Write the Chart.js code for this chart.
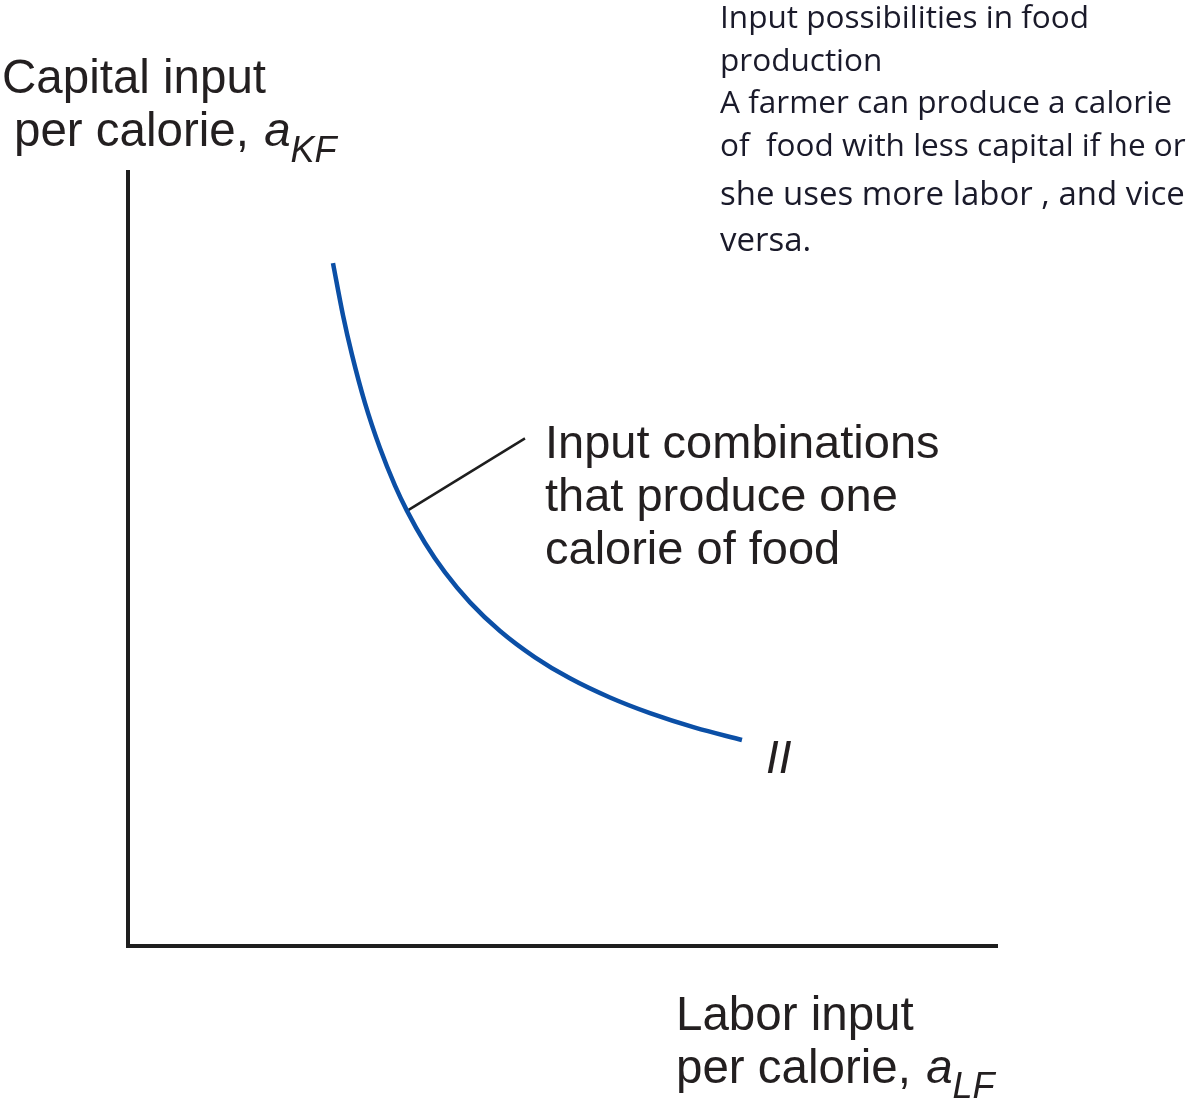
<!DOCTYPE html>
<html>
<head>
<meta charset="utf-8">
<script src="https://cdn.jsdelivr.net/npm/chart.js@4.4.1/dist/chart.umd.min.js"></script>
<style>
  html, body { margin: 0; padding: 0; background: #ffffff; }
  #wrap { width: 1191px; height: 1102px; }
</style>
</head>
<body>
<div id="wrap"><canvas id="c" width="1191" height="1102"></canvas></div>
<script>
// ---- Data ----
// Isoquant II: labor input per calorie (x) vs capital input per calorie (y), axis units 0..10
const laborInput   = [2.356, 2.471, 2.575, 2.724, 2.897, 3.069, 3.207, 3.414, 3.644, 3.931, 4.276, 4.678, 5.080, 5.540, 6.000, 6.517, 7.057];
const capitalInput = [8.823, 8.150, 7.637, 7.014, 6.430, 5.948, 5.622, 5.207, 4.827, 4.440, 4.070, 3.730, 3.458, 3.210, 3.008, 2.821, 2.662];
// Leader line from curve to label
const leaderX = [3.207, 4.563];
const leaderY = [5.622, 6.559];
// Axis range
const axisMin = 0, axisMax = 10;
// Texts
const yAxisLabel = ["Capital input", "per calorie, "];
const yAxisSym = ["a", "KF"];
const xAxisLabel = ["Labor input", "per calorie, "];
const xAxisSym = ["a", "LF"];
const curveLabel = ["Input combinations", "that produce one", "calorie of food"];
const curveName = "II";
const noteLines = [
  "Input possibilities in food",
  "production",
  "A farmer can produce a calorie",
  "of  food with less capital if he or",
  "she uses more labor , and vice",
  "versa."
];

const toPts = (xs, ys) => xs.map((x, i) => ({ x: x, y: ys[i] }));

const annotate = {
  id: 'annotate',
  beforeDatasetsDraw(chart) {
    const ctx = chart.ctx;
    const xs = chart.scales.x, ys = chart.scales.y;
    const x0 = xs.getPixelForValue(axisMin);
    const y0 = ys.getPixelForValue(axisMin);
    const xEnd = xs.getPixelForValue(axisMax);
    const yTop = ys.getPixelForValue(axisMax);
    ctx.save();
    ctx.strokeStyle = '#1e1e1e';
    ctx.lineWidth = 4;
    ctx.lineJoin = 'miter';
    ctx.lineCap = 'butt';
    ctx.beginPath();
    ctx.moveTo(x0, yTop - 2);
    ctx.lineTo(x0, y0);
    ctx.lineTo(xEnd, y0);
    ctx.stroke();
    ctx.restore();
  },
  afterDraw(chart) {
    const ctx = chart.ctx;
    ctx.save();
    ctx.fillStyle = '#231f20';
    ctx.textBaseline = 'alphabetic';
    ctx.textAlign = 'left';
    const sans = '"Liberation Sans", Arial, sans-serif';
    const big = '47.5px ' + sans;
    const bigIt = 'italic 47.5px ' + sans;
    const sub = 'italic 36px ' + sans;

    // Y axis label
    ctx.font = big;
    ctx.fillText(yAxisLabel[0], 2, 93);
    ctx.fillText(yAxisLabel[1], 14, 146);
    let w = ctx.measureText(yAxisLabel[1]).width;
    ctx.font = bigIt;
    ctx.fillText(yAxisSym[0], 14 + w + 2, 146);
    let wa = ctx.measureText(yAxisSym[0]).width;
    ctx.font = sub;
    ctx.fillText(yAxisSym[1], 14 + w + 2 + wa, 162);

    // X axis label
    ctx.font = big;
    ctx.fillText(xAxisLabel[0], 676, 1030);
    ctx.fillText(xAxisLabel[1], 676, 1083);
    w = ctx.measureText(xAxisLabel[1]).width;
    ctx.font = bigIt;
    ctx.fillText(xAxisSym[0], 676 + w + 2, 1083);
    wa = ctx.measureText(xAxisSym[0]).width;
    ctx.font = sub;
    ctx.fillText(xAxisSym[1], 676 + w + 2 + wa, 1098);

    // Curve label
    ctx.font = '47px ' + sans;
    ctx.fillText(curveLabel[0], 545, 458);
    ctx.fillText(curveLabel[1], 545, 511);
    ctx.fillText(curveLabel[2], 545, 564);

    // Curve name
    ctx.font = 'italic 46px ' + sans;
    ctx.fillText(curveName, 766, 773);

    // Note text (Calibri-like)
    const fam = '"Open Sans", "Noto Sans", sans-serif';
    ctx.font = '100px ' + fam;
    const s1 = 100 * 452 / ctx.measureText(noteLines[2]).width;
    const s2 = 100 * 465 / ctx.measureText(noteLines[4]).width;
    ctx.fillStyle = '#1a1a2a';
    const baselines = [28, 71, 113, 156, 205, 251];
    noteLines.forEach((t, i) => {
      const s = i < 4 ? s1 : s2;
      ctx.font = s.toFixed(2) + 'px ' + fam;
      ctx.fillText(t, 720, baselines[i]);
    });
    ctx.restore();
  }
};

new Chart(document.getElementById('c'), {
  type: 'scatter',
  data: {
    datasets: [
      {
        label: 'II',
        data: toPts(laborInput, capitalInput),
        showLine: true,
        borderColor: '#0b4fa6',
        borderWidth: 4.5,
        pointRadius: 0,
        cubicInterpolationMode: 'monotone',
        fill: false
      },
      {
        label: 'leader',
        data: toPts(leaderX, leaderY),
        showLine: true,
        borderColor: '#1e1e1e',
        borderWidth: 2.5,
        pointRadius: 0,
        tension: 0,
        fill: false
      }
    ]
  },
  options: {
    responsive: false,
    animation: false,
    events: [],
    layout: { padding: { left: 128, right: 193, top: 172, bottom: 156 } },
    plugins: { legend: { display: false }, tooltip: { enabled: false }, title: { display: false } },
    scales: {
      x: { type: 'linear', min: axisMin, max: axisMax, display: false },
      y: { type: 'linear', min: axisMin, max: axisMax, display: false }
    }
  },
  plugins: [annotate]
});
</script>
</body>
</html>
